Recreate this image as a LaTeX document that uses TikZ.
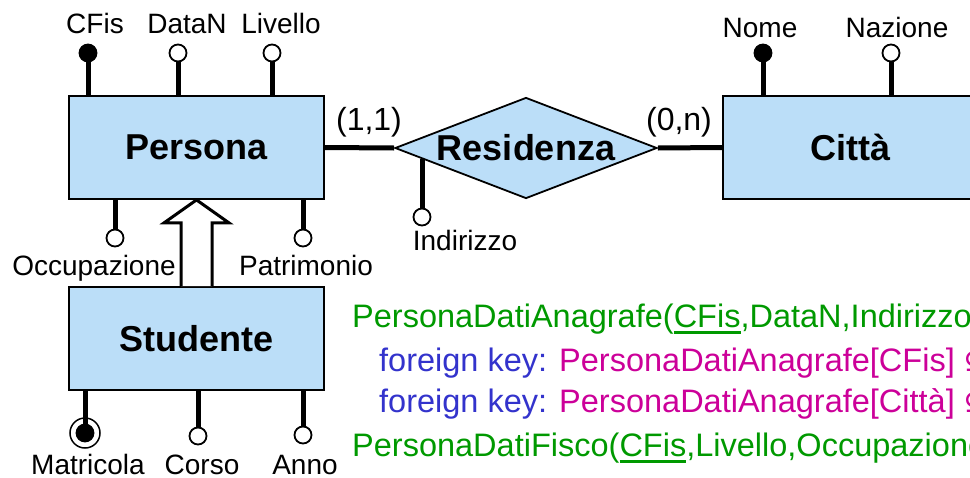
\documentclass[tikz,border=0pt]{standalone}
\usepackage{fontspec}
\setmainfont{Liberation Sans}
\newfontfamily\symfont{DejaVu Sans}
\usetikzlibrary{shapes.geometric,calc}
\definecolor{boxblue}{RGB}{187,222,248}
\definecolor{tgreen}{RGB}{0,153,0}
\definecolor{tblue}{RGB}{51,51,204}
\definecolor{tmag}{RGB}{204,0,153}
\newcommand\keyu[1]{\setbox0\hbox{#1}\rlap{\rule[-7pt]{\wd0}{3pt}}\box0}
\begin{document}
\begin{tikzpicture}[x=1pt,y=-1pt,
  entity/.style={draw=black,line width=1.8pt,fill=boxblue,minimum width=255pt,minimum height=103pt,inner sep=0pt,font=\fontsize{36}{40}\selectfont\bfseries},
  rel/.style={shape=diamond,draw=black,line width=1.8pt,fill=boxblue,minimum width=262pt,minimum height=101pt,aspect=2.57,inner sep=0pt,font=\fontsize{36}{40}\selectfont\bfseries},
  conn/.style={line width=5pt},
  attro/.style={circle,draw=black,line width=1.8pt,fill=white,minimum size=17pt,inner sep=0pt},
  attrk/.style={circle,draw=black,line width=1.8pt,fill=black,minimum size=17pt,inner sep=0pt},
  ring/.style={circle,draw=black,line width=1.5pt,fill=white,minimum size=30pt,inner sep=0pt},
  lab/.style={anchor=base,inner sep=0pt,font=\fontsize{28}{32}\selectfont},
  card/.style={anchor=base,inner sep=0pt,font=\fontsize{32}{36}\selectfont},
  code/.style={anchor=base west,inner sep=0pt,font=\fontsize{32.5}{38}\selectfont},
  genarrow/.style={draw=black,line width=3pt,fill=white,line join=miter}
]
\useasboundingbox (0,0) rectangle (970,477);
\clip (0,0) rectangle (970,477);

% entities and relationship
\node[entity] (per) at (196.5,147.5) {Persona};
\node[entity] (stu) at (196.5,338.5) {Studente};
\node[entity] (cit) at (850.5,147.5) {Città};
\node[rel] (res) at (526,148) {Residenza};

% relationship connectors
\draw[conn] (per.east) -- (res.west);
\draw[conn] (res.east) -- (cit.west);
\node[card] (c11) at (369,130) {(1,1)};
\node[card] (c0n) at (679,130) {(0,n)};

% generalization arrow
\draw[genarrow] ($(stu.north)+(-15.5,0)$) -- ($(per.south)+(-15.5,23)$) -- ($(per.south)+(-32.5,23)$) -- (per.south) -- ($(per.south)+(32.5,23)$) -- ($(per.south)+(15.5,23)$) -- ($(stu.north)+(15.5,0)$);

% Persona attributes (top)
\node[attrk] (pcf) at (88,53) {};
\node[attro] (pdn) at (178,53) {};
\node[attro] (pli) at (272,53) {};
\draw[conn] (pcf) -- (pcf |- per.north);
\draw[conn] (pdn) -- (pdn |- per.north);
\draw[conn] (pli) -- (pli |- per.north);
\node[lab] (lcf) at (95,33) {CFis};
\node[lab] (ldn) at (187,33) {DataN};
\node[lab] (lli) at (281,33) {Livello};

% Persona attributes (bottom)
\node[attro] (poc) at (115,238) {};
\node[attro] (ppa) at (303,238) {};
\draw[conn] (poc) -- (poc |- per.south);
\draw[conn] (ppa) -- (ppa |- per.south);
\node[lab] (loc) at (94,275) {Occupazione};
\node[lab] (lpa) at (306,275) {Patrimonio};

% Studente attributes
\node[ring] (smr) at (85,433) {};
\node[attrk] (smk) at (85,433) {};
\draw[conn] (smk) -- (smk |- stu.south);
\node[attro] (sco) at (198,436) {};
\node[attro] (san) at (303,435) {};
\draw[conn] (sco) -- (sco |- stu.south);
\draw[conn] (san) -- (san |- stu.south);
\node[lab] (lma) at (88,474) {Matricola};
\node[lab] (lco) at (202,474) {Corso};
\node[lab] (lan) at (305,474) {Anno};

% Residenza attribute
\coordinate (rin) at ($(res.west)!0.206!(res.south)$);
\node[attro] (ind) at (422,217) {};
\draw[conn] (ind) -- (ind |- rin);
\node[lab] (lin) at (465,250) {Indirizzo};

% Citta attributes
\node[attrk] (cno) at (763,53) {};
\node[attro] (cna) at (891,53) {};
\draw[conn] (cno) -- (cno |- cit.north);
\draw[conn] (cna) -- (cna |- cit.north);
\node[lab] (lno) at (760,37) {Nome};
\node[lab] (lna) at (897,37) {Nazione};

% relational schema text
\node[code] (t1) at (352,327) {\color{tgreen}PersonaDatiAnagrafe(\keyu{CFis},DataN,Indirizzo};
\node[code] (t2) at (379,371) {\color{tblue}foreign key: \color{tmag}PersonaDatiAnagrafe[CFis] {\symfont ⊆}};
\node[code] (t3) at (379,412) {\color{tblue}foreign key: \color{tmag}PersonaDatiAnagrafe[Città] {\symfont ⊆}};
\node[code] (t4) at (352,456) {\color{tgreen}PersonaDatiFisco(\keyu{CFis},Livello,Occupazione};
\end{tikzpicture}
\end{document}
